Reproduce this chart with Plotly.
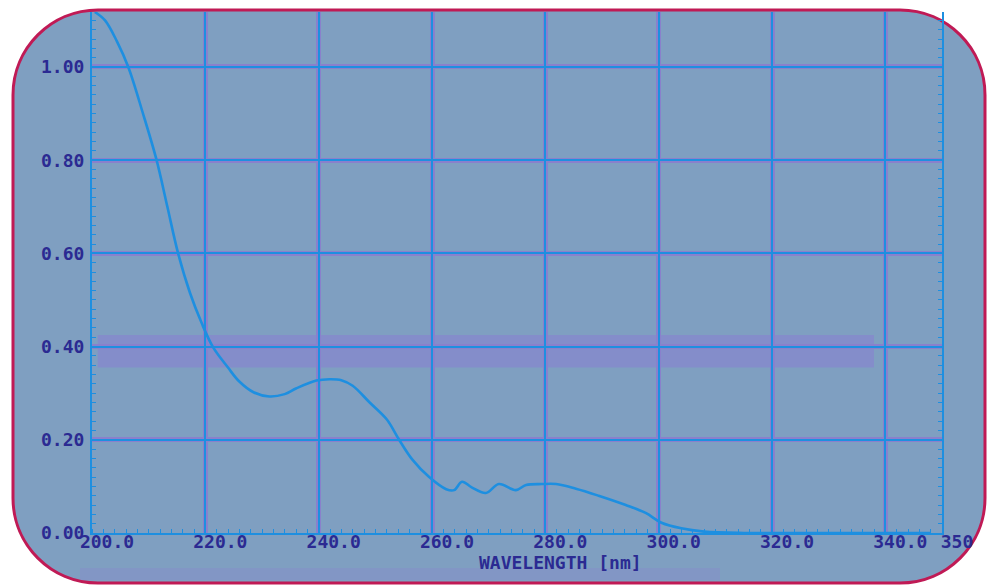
import plotly.graph_objects as go

# ---- data ----
wavelength = [200.5, 202.3, 204.4, 206.4, 209, 211.4, 213.3, 215.2, 217.3, 219.3,
              221.3, 224, 226, 228.5, 231.3, 234, 236, 239.6, 241.9, 244, 246, 249,
              252, 254.2, 256.5, 259.5, 262.5, 263.9, 265.3, 267, 269.5, 271.8,
              274.8, 276.6, 279.4, 281.9, 285.4, 289.4, 294.2, 297.7, 300.5, 304,
              308, 315, 330, 348]
absorbance = [1.118, 1.10, 1.055, 1.00, 0.90, 0.80, 0.70, 0.60, 0.515, 0.452,
              0.40, 0.355, 0.325, 0.302, 0.293, 0.298, 0.31, 0.327, 0.33, 0.328,
              0.316, 0.28, 0.244, 0.20, 0.158, 0.12, 0.094, 0.092, 0.11, 0.098,
              0.086, 0.105, 0.092, 0.103, 0.105, 0.105, 0.095, 0.08, 0.06, 0.043,
              0.022, 0.01, 0.003, 0.0, 0.0, 0.0]

x_ticks = [200, 220, 240, 260, 280, 300, 320, 340, 350]
x_ticktext = ["200.0", "220.0", "240.0", "260.0", "280.0", "300.0", "320.0", "340.0", "350"]
y_ticks = [0.0, 0.2, 0.4, 0.6, 0.8, 1.0]
y_ticktext = ["0.00", "0.20", "0.40", "0.60", "0.80", "1.00"]
x_title = "WAVELENGTH [nm]"

# ---- styling ----
W, H = 988, 587
ML, MR, MT, MB = 92, 46, 12, 54
PW, PH = W - ML - MR, H - MT - MB
BG = "#7f9fc1"
PURPLE = "#8a80cc"
CYAN = "#1e8fe0"
TXT = "#2b2a92"
FRAME = "#c01a55"
XR = [200, 350]
YR = [0, 1.118]


def px(x):
    return (x - ML) / PW


def py(y):
    return (H - MB - y) / PH


# rounded frame path in paper coordinates
L, R, T, B, RAD = 13, 985, 10, 583, 85
k = 0.5523 * RAD
path = (
    f"M {px(L + RAD)},{py(T)} L {px(R - RAD)},{py(T)} "
    f"C {px(R - RAD + k)},{py(T)} {px(R)},{py(T + RAD - k)} {px(R)},{py(T + RAD)} "
    f"L {px(R)},{py(B - RAD)} "
    f"C {px(R)},{py(B - RAD + k)} {px(R - RAD + k)},{py(B)} {px(R - RAD)},{py(B)} "
    f"L {px(L + RAD)},{py(B)} "
    f"C {px(L + RAD - k)},{py(B)} {px(L)},{py(B - RAD + k)} {px(L)},{py(B - RAD)} "
    f"L {px(L)},{py(T + RAD)} "
    f"C {px(L)},{py(T + RAD - k)} {px(L + RAD - k)},{py(T)} {px(L + RAD)},{py(T)} Z"
)

fig = go.Figure()
# invisible trace to anchor base axes (purple grid band)
fig.add_trace(go.Scatter(x=XR, y=YR, mode="markers", marker=dict(opacity=0),
                         hoverinfo="skip", showlegend=False, xaxis="x", yaxis="y"))
# spectrum on overlay axes (drawn on top)
fig.add_trace(go.Scatter(x=wavelength, y=absorbance, mode="lines",
                         line=dict(color=CYAN, width=2.6, shape="spline", smoothing=1.0),
                         showlegend=False, xaxis="x2", yaxis="y2"))

tickfont = dict(family="DejaVu Sans Mono", size=18, color=TXT, weight="bold")

fig.update_layout(
    width=W, height=H,
    margin=dict(l=ML, r=MR, t=MT, b=MB),
    paper_bgcolor="white",
    plot_bgcolor="rgba(0,0,0,0)",
    showlegend=False,
    xaxis=dict(range=XR, tickvals=x_ticks, ticktext=x_ticktext, tickfont=tickfont,
               showgrid=True, gridcolor=PURPLE, gridwidth=5, zeroline=False,
               showline=True, linecolor=CYAN, linewidth=2,
               ticks="", ticklabelshift=15, ticklabelstandoff=-9,
               minor=dict(dtick=2, ticks="inside", ticklen=4, tickcolor=CYAN, showgrid=False)),
    yaxis=dict(range=YR, tickvals=y_ticks, ticktext=y_ticktext, tickfont=tickfont,
               showgrid=True, gridcolor=PURPLE, gridwidth=5, zeroline=False,
               showline=True, linecolor=CYAN, linewidth=2, mirror="allticks",
               ticks="", ticklabelstandoff=2,
               minor=dict(dtick=0.02, ticks="inside", ticklen=4, tickcolor=CYAN, showgrid=False)),
    xaxis2=dict(range=XR, overlaying="x", tickvals=x_ticks[:-1], showticklabels=False,
                showgrid=True, gridcolor=CYAN, gridwidth=2, zeroline=False, showline=False),
    yaxis2=dict(range=YR, overlaying="y", tickvals=y_ticks, showticklabels=False,
                showgrid=True, gridcolor=CYAN, gridwidth=2, zeroline=False, showline=False),
    shapes=[
        dict(type="path", path=path, xref="paper", yref="paper",
             fillcolor=BG, line=dict(color=FRAME, width=3), layer="below"),
        dict(type="rect", xref="x", yref="y", x0=201, x1=338, y0=0.355, y1=0.425,
             fillcolor="rgba(140,120,212,0.45)", line=dict(width=0), layer="below"),
        dict(type="rect", xref="paper", yref="paper", x0=px(80), x1=px(720),
             y0=py(580), y1=py(568), fillcolor="rgba(140,120,212,0.22)",
             line=dict(width=0), layer="below"),
    ],
    annotations=[
        dict(text=x_title, xref="paper", yref="paper", x=px(560), y=py(562),
             showarrow=False, font=dict(family="DejaVu Sans Mono", size=18,
                                        color=TXT, weight="bold"),
             xanchor="center", yanchor="middle"),
    ],
)

fig.write_html("out.html")
